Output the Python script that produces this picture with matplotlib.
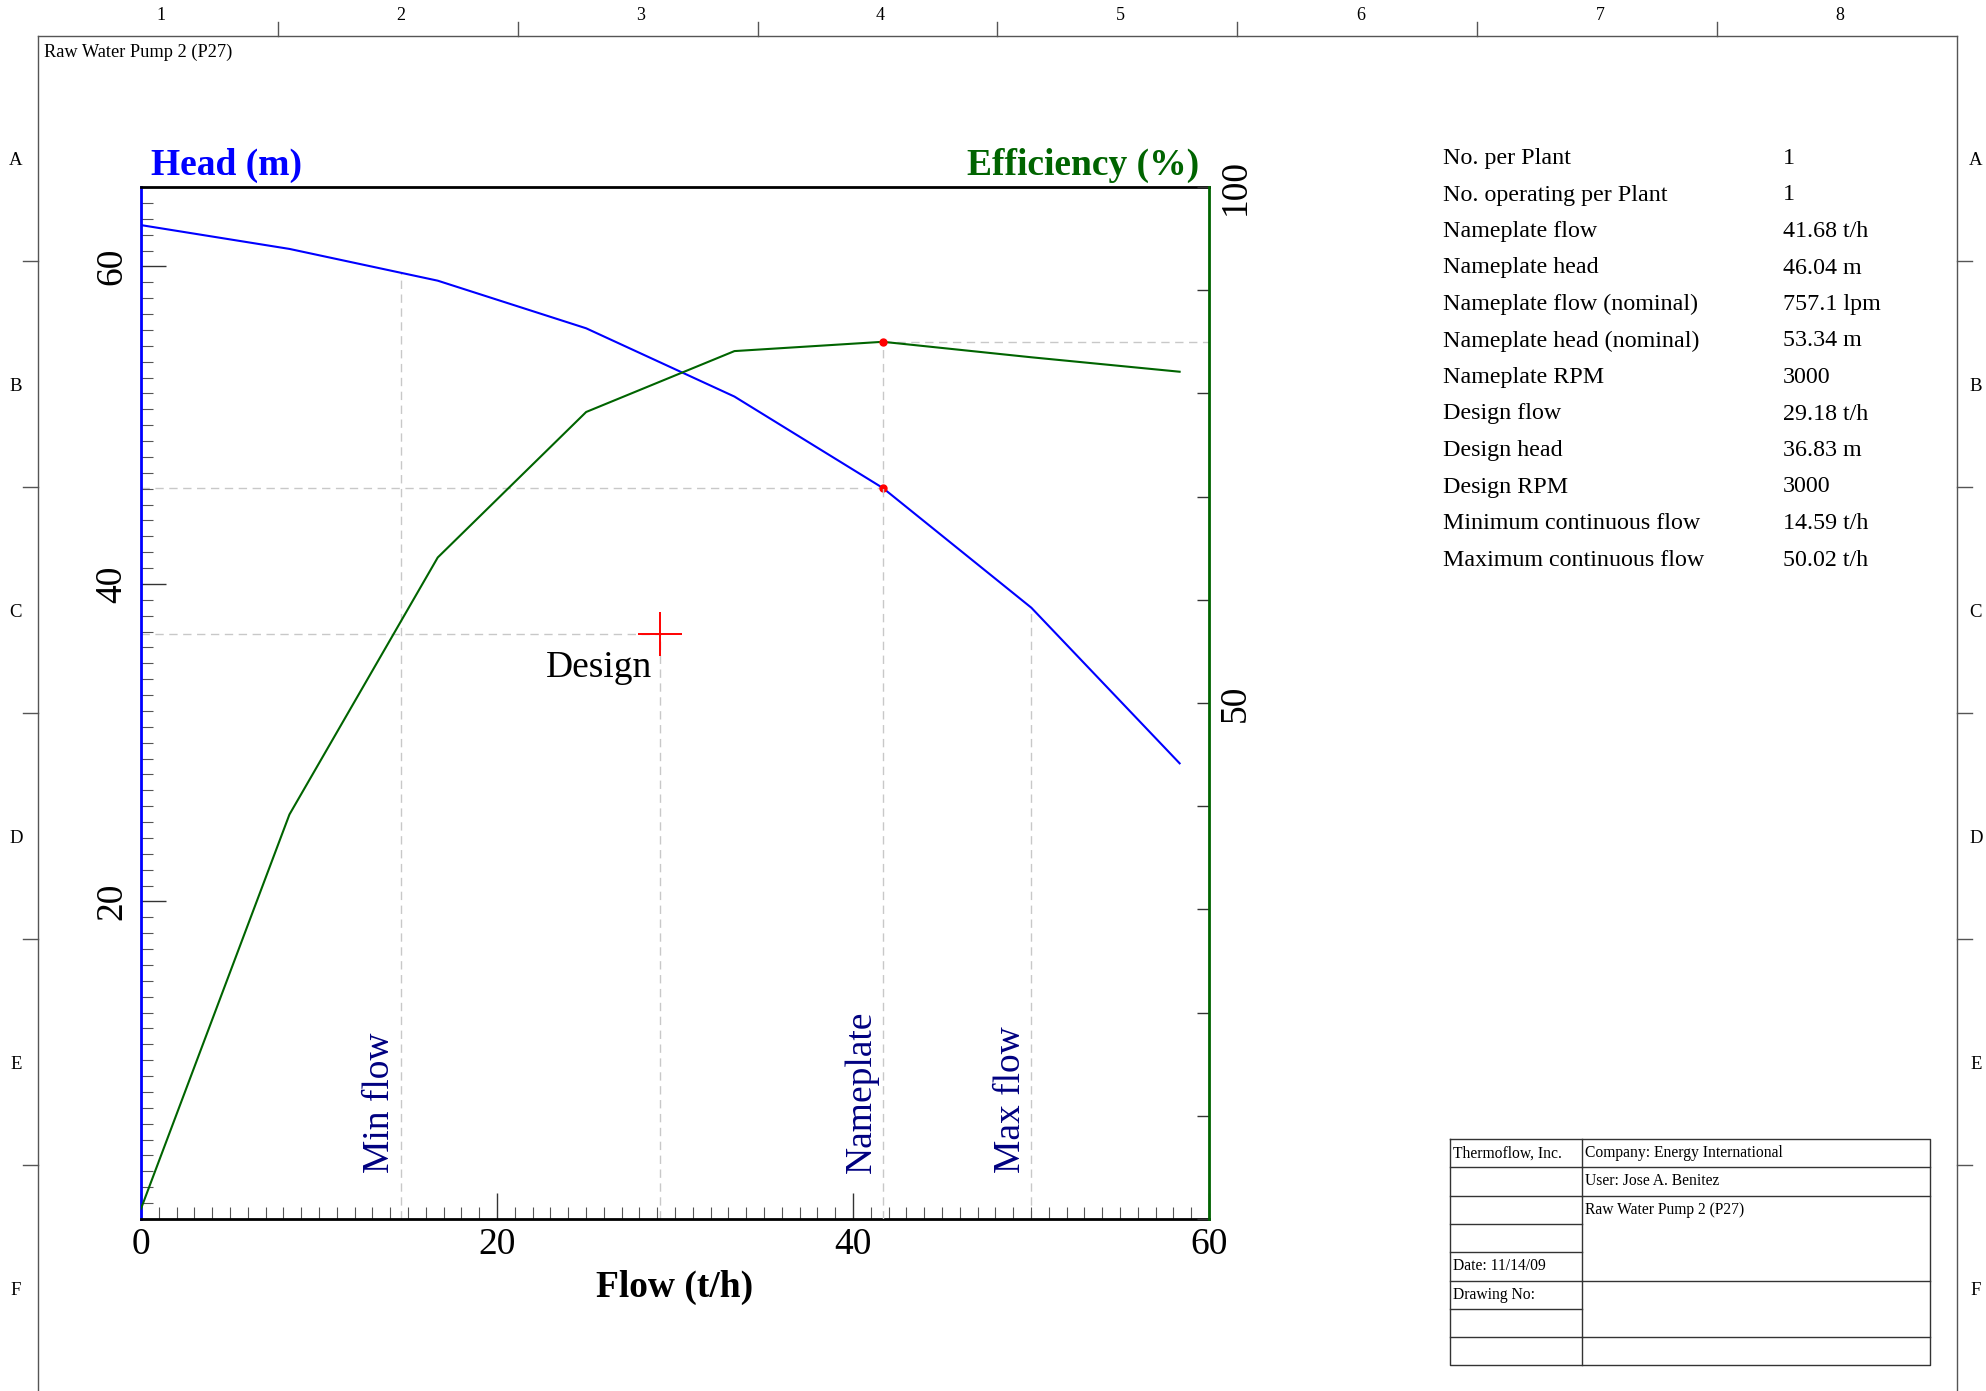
import numpy as np
import matplotlib
matplotlib.use("Agg")
import matplotlib.pyplot as plt
from matplotlib.lines import Line2D
from matplotlib.ticker import MultipleLocator, FixedLocator

plt.rcParams['font.family'] = ['Liberation Serif', 'DejaVu Serif']

# pump curve read from the sheet
flow = [0.0, 8.34, 16.67, 25.01, 33.34, 41.68, 50.02, 58.35]
head = [62.6, 61.1, 59.1, 56.1, 51.8, 46.04, 38.5, 28.7]
efficiency = [1.0, 39.2, 64.1, 78.2, 84.1, 85.0, 83.5, 82.1]

nameplate_flow = 41.68
nameplate_head = 46.04
nameplate_eff = 85.0
design_flow = 29.18
design_head = 36.83
min_flow = 14.59
max_flow = 50.02

param_labels = ["No. per Plant", "No. operating per Plant", "Nameplate flow",
                "Nameplate head", "Nameplate flow (nominal)", "Nameplate head (nominal)",
                "Nameplate RPM", "Design flow", "Design head", "Design RPM",
                "Minimum continuous flow", "Maximum continuous flow"]
param_values = ["1", "1", "41.68 t/h", "46.04 m", "757.1 lpm", "53.34 m", "3000",
                "29.18 t/h", "36.83 m", "3000", "14.59 t/h", "50.02 t/h"]

page_title = "Raw Water Pump 2 (P27)"
col_numbers = ["1", "2", "3", "4", "5", "6", "7", "8"]
row_letters = ["A", "B", "C", "D", "E", "F"]

W, H = 1986, 1391
fig = plt.figure(figsize=(W / 100, H / 100), dpi=100)


def fx(x):
    return x / W


def fy(y):
    return 1 - y / H


def pline(xs, ys, **kw):
    fig.add_artist(Line2D([fx(v) for v in xs], [fy(v) for v in ys],
                          color=kw.pop('color', '#555555'), lw=kw.pop('lw', 1.0), **kw))


# drawing frame
fl, ft, fr, fb = 38, 35.5, 1957, 1391
pline([fl, fl], [ft, fb])
pline([fl, fr], [ft, ft])
pline([fr, fr], [ft, fb])
colw = (fr - fl) / 8
for i, n in enumerate(col_numbers):
    if i > 0:
        pline([fl + i * colw] * 2, [22, ft])
    fig.text(fx(fl + (i + 0.5) * colw + 3), fy(16), n, ha='center', va='center', fontsize=13)
rowh = (fb - ft) / 6
for i, c in enumerate(row_letters):
    if i > 0:
        pline([23, fl], [ft + i * rowh] * 2)
        pline([fr, fr + 15], [ft + i * rowh] * 2)
    yc = ft + (i + 0.5) * rowh + 12
    fig.text(fx(16), fy(yc), c, ha='center', va='center', fontsize=13.5)
    fig.text(fx(1976), fy(yc), c, ha='center', va='center', fontsize=13.5)

fig.text(fx(44), fy(52), page_title, ha='left', va='center', fontsize=13.2)

# chart
ax = fig.add_axes([fx(141), fy(1219), (1209 - 141) / W, (1219 - 187) / H])
ax2 = ax.twinx()

ax.set_xlim(0, 60)
ax.set_ylim(0, 65)
ax2.set_ylim(0, 100)

grey = '#c8c8c8'
dash = (0, (6, 4))
# reference lines
ax.plot([min_flow, min_flow], [0, np.interp(min_flow, flow, head)], color=grey, lw=1, ls=dash, zorder=1)
ax.plot([max_flow, max_flow], [0, np.interp(max_flow, flow, head)], color=grey, lw=1, ls=dash, zorder=1)
ax.plot([0, nameplate_flow], [nameplate_head, nameplate_head], color=grey, lw=1, ls=dash, zorder=1)
ax.plot([0, design_flow], [design_head, design_head], color=grey, lw=1, ls=dash, zorder=1)
ax.plot([design_flow, design_flow], [0, design_head], color=grey, lw=1, ls=dash, zorder=1)
ax2.plot([nameplate_flow, nameplate_flow], [0, nameplate_eff], color=grey, lw=1, ls=dash, zorder=1)
ax2.plot([nameplate_flow, 60], [nameplate_eff, nameplate_eff], color=grey, lw=1, ls=dash, zorder=1)

ax.plot(flow, head, color='#0000ff', lw=1.5, zorder=3)
ax2.plot(flow, efficiency, color='#006400', lw=1.5, zorder=3)
ax.plot([nameplate_flow], [nameplate_head], 'o', color='red', ms=5, zorder=4)
ax2.plot([nameplate_flow], [nameplate_eff], 'o', color='red', ms=5, zorder=4)
ax.plot([design_flow], [design_head], '+', color='red', ms=32, mew=1.4, zorder=4)
ax.annotate("Design", (design_flow, design_head), xytext=(-6, -12), textcoords='offset points',
            ha='right', va='top', fontsize=27)

for x, lab in [(min_flow, "Min flow"), (nameplate_flow, "Nameplate"), (max_flow, "Max flow")]:
    ax.annotate(lab, (x, 0), xytext=(-15, 33), textcoords='offset points', rotation=90,
                ha='center', va='bottom', fontsize=27, color='#000080')

# axes styling
for s in ['top', 'bottom']:
    ax.spines[s].set_color('black')
    ax.spines[s].set_linewidth(2)
ax.spines['left'].set_color('#0000ff')
ax.spines['left'].set_linewidth(2)
ax.spines['right'].set_visible(False)
for s in ['top', 'bottom', 'left']:
    ax2.spines[s].set_visible(False)
ax2.spines['right'].set_color('#006400')
ax2.spines['right'].set_linewidth(2)

ax.xaxis.set_major_locator(FixedLocator([0, 20, 40, 60]))
ax.xaxis.set_minor_locator(MultipleLocator(1))
ax.yaxis.set_major_locator(FixedLocator([20, 40, 60]))
ax.yaxis.set_minor_locator(MultipleLocator(1))
ax2.yaxis.set_major_locator(FixedLocator([50, 100]))
ax2.yaxis.set_minor_locator(MultipleLocator(10))

ax.tick_params(axis='x', which='major', direction='in', length=19, width=1, color='#333333',
               labelsize=27, pad=6)
ax.tick_params(axis='x', which='minor', direction='in', length=8.5, width=0.8, color='#555555')
ax.tick_params(axis='y', which='major', direction='in', length=18, width=1, color='#333333',
               labelsize=27, labelrotation=90, pad=8.5)
ax.tick_params(axis='y', which='minor', direction='in', length=8.5, width=0.8, color='#555555')
ax2.tick_params(axis='y', which='major', direction='in', length=8.5, width=1, color='#333333',
                labelsize=27, labelrotation=90, pad=6.5)
ax2.tick_params(axis='y', which='minor', direction='in', length=8.5, width=1, color='#333333')
for t in ax.get_yticklabels():
    t.set_va('center')
for t in ax2.get_yticklabels():
    t.set_va('center')

fig.text(fx(151), fy(175), "Head (m)", ha='left', va='baseline', fontsize=27,
         fontweight='bold', color='#0000ff')
fig.text(fx(1199), fy(175), "Efficiency (%)", ha='right', va='baseline', fontsize=27,
         fontweight='bold', color='#006400')
fig.text(fx(675), fy(1297), "Flow (t/h)", ha='center', va='baseline', fontsize=27,
         fontweight='bold')

# pump data list
for i, (lab, val) in enumerate(zip(param_labels, param_values)):
    y = 158.5 + i * 36.5
    fig.text(fx(1443), fy(y), lab, ha='left', va='center', fontsize=17.3)
    fig.text(fx(1783), fy(y), val, ha='left', va='center', fontsize=17.3)

# title block
tb_l, tb_m, tb_r, tb_t, rh = 1450, 1582, 1930, 1139, 28.3
tb_b = tb_t + 8 * rh
pline([tb_l, tb_r, tb_r, tb_l, tb_l], [tb_t, tb_t, tb_b, tb_b, tb_t], color='#333333')
pline([tb_m, tb_m], [tb_t, tb_b], color='#333333')
for k in range(1, 8):
    pline([tb_l, tb_m], [tb_t + k * rh] * 2, color='#333333')
for k in [1, 2, 5, 7]:
    pline([tb_m, tb_r], [tb_t + k * rh] * 2, color='#333333')
block_left = {0: "Thermoflow, Inc.", 4: "Date: 11/14/09", 5: "Drawing No:"}
block_right = {0: "Company: Energy International", 1: "User: Jose A. Benitez", 2: page_title}
for k, t in block_left.items():
    fig.text(fx(tb_l + 3), fy(tb_t + (k + 0.5) * rh), t, ha='left', va='center', fontsize=11.25)
for k, t in block_right.items():
    fig.text(fx(tb_m + 3), fy(tb_t + (k + 0.5) * rh), t, ha='left', va='center', fontsize=11.25)

fig.savefig("out.png", dpi=100, facecolor='white')
